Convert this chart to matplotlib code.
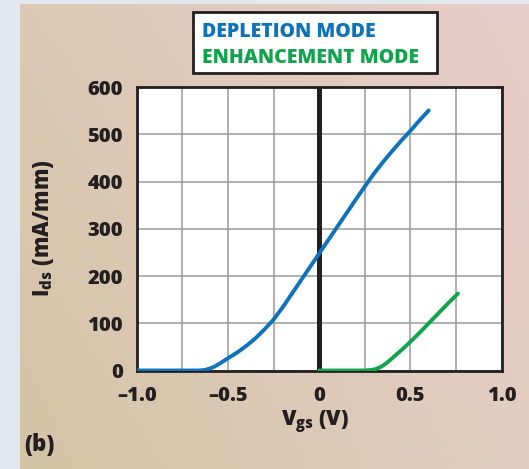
import numpy as np
import matplotlib
matplotlib.use("Agg")
import matplotlib.pyplot as plt
import matplotlib.patches as patches

# Data (Vgs in V, Ids in mA/mm)
depletion_vgs = [-1.0, -0.66, -0.63, -0.6, -0.57, -0.54, -0.5, -0.45, -0.4, -0.35,
                 -0.3, -0.25, -0.2, -0.1, 0.0, 0.1, 0.2, 0.25, 0.3, 0.35,
                 0.4, 0.45, 0.5, 0.55, 0.6]
depletion_ids = [0, 0, 1, 4, 9, 16, 26, 38, 52, 68,
                 87, 108, 134, 191, 248, 305, 362, 390, 417, 442,
                 465, 487, 508, 530, 551]

enhancement_vgs = [0.0, 0.25, 0.28, 0.31, 0.34, 0.37, 0.4, 0.45, 0.5, 0.55,
                   0.6, 0.65, 0.7, 0.76]
enhancement_ids = [0, 0, 1, 3, 8, 16, 26, 43, 61, 80,
                   100, 120, 140, 163]

x_ticks = [-1.0, -0.5, 0.0, 0.5, 1.0]
x_tick_labels = ["\u20131.0", "\u20130.5", "0", "0.5", "1.0"]
y_ticks = [0, 100, 200, 300, 400, 500, 600]

BLUE = "#0b72bb"
GREEN = "#10a44c"
INK = "#231f20"

plt.rcParams['font.family'] = ['Open Sans', 'DejaVu Sans']
plt.rcParams['font.weight'] = 800
plt.rcParams['mathtext.fontset'] = 'custom'
plt.rcParams['mathtext.rm'] = 'Open Sans:weight=800'
plt.rcParams['mathtext.it'] = 'Open Sans:weight=800'
plt.rcParams['mathtext.bf'] = 'Open Sans:weight=800'

W, H = 529, 469
fig = plt.figure(figsize=(W / 100, H / 100), dpi=100)
fig.patch.set_facecolor("#e1e8f0")

# Tan-to-pink panel behind the chart
bg = fig.add_axes([20 / W, 0, 1 - 20 / W, 1 - 4 / H])
bg.axis("off")
c_tl = np.array([220, 200, 180]) / 255
c_tr = np.array([233, 205, 201]) / 255
c_bl = np.array([212, 196, 166]) / 255
c_br = np.array([226, 205, 192]) / 255
u = np.linspace(0, 1, 200)[None, :, None]
v = np.linspace(0, 1, 200)[:, None, None]
grad = (c_tl * (1 - u) * (1 - v) + c_tr * u * (1 - v)
        + c_bl * (1 - u) * v + c_br * u * v)
bg.imshow(grad, aspect="auto", extent=[0, 1, 0, 1])

ax = fig.add_axes([136.7 / W, 1 - 370.5 / H, 365 / W, 283.2 / H])
ax.set_facecolor("white")
ax.set_xlim(-1.0, 1.0)
ax.set_ylim(0, 600)

ax.set_xticks(np.arange(-1.0, 1.01, 0.25), minor=True)
ax.set_xticks(x_ticks)
ax.set_xticklabels(x_tick_labels)
ax.set_yticks(y_ticks)
ax.grid(True, which="both", color="#9a9a9a", linewidth=1.1)
ax.set_axisbelow(True)
ax.tick_params(which="both", length=0, labelsize=14.5, colors=INK)
ax.tick_params(axis="x", pad=11)
ax.tick_params(axis="y", pad=10)
for s in ax.spines.values():
    s.set_linewidth(2)
    s.set_color(INK)

ax.axvline(0, color=INK, linewidth=3.6, zorder=2)

ax.plot(depletion_vgs, depletion_ids, color=BLUE, linewidth=2.8,
        solid_capstyle="round", solid_joinstyle="round", zorder=3)
ax.plot(enhancement_vgs, enhancement_ids, color=GREEN, linewidth=2.8,
        solid_capstyle="round", solid_joinstyle="round", zorder=3)

fig.text(315 / W, 1 - 422 / H, r"$V_{gs}$ (V)", ha="center", va="center",
         fontsize=15, color=INK, fontweight=800)
fig.text(43 / W, 1 - 228 / H, r"$I_{ds}$ (mA/mm)", ha="center", va="center",
         rotation=90, fontsize=15.5, color=INK, fontweight=800)
fig.text(24 / W, 1 - 445 / H, "(b)", ha="left", va="center",
         fontsize=16, color=INK, fontweight=800)

# Legend box
fig.patches.append(patches.Rectangle((192.7 / W, 1 - 72.7 / H), 244.6 / W, 61 / H,
                                     transform=fig.transFigure, facecolor="white",
                                     edgecolor=INK, linewidth=2))
fig.text(201.7 / W, 1 - 32 / H, "DEPLETION MODE", ha="left", va="center",
         fontsize=14, color=BLUE, fontweight=800)
fig.text(201.7 / W, 1 - 58 / H, "ENHANCEMENT MODE", ha="left", va="center",
         fontsize=14, color=GREEN, fontweight=800)

fig.savefig("out.png", dpi=100)
